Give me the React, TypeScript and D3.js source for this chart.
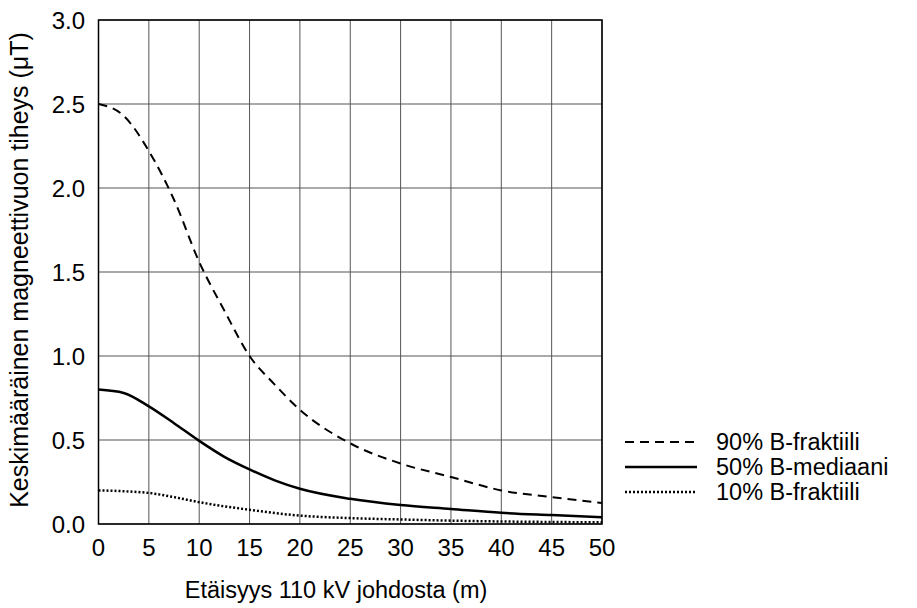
import React from "react";
import * as d3 from "d3";

const distances = [0, 2.5, 5, 7.5, 10, 12.5, 15, 17.5, 20, 25, 30, 35, 40, 45, 50];
const p90 = [2.5, 2.43, 2.22, 1.93, 1.56, 1.27, 1.0, 0.83, 0.68, 0.48, 0.36, 0.28, 0.2, 0.16, 0.125];
const p50 = [0.8, 0.78, 0.7, 0.6, 0.495, 0.4, 0.325, 0.26, 0.21, 0.15, 0.113, 0.09, 0.067, 0.053, 0.04];
const p10 = [0.2, 0.195, 0.185, 0.16, 0.13, 0.105, 0.085, 0.065, 0.05, 0.035, 0.027, 0.02, 0.015, 0.012, 0.01];
const xTicks = [0, 5, 10, 15, 20, 25, 30, 35, 40, 45, 50];
const yTicks = [0, 0.5, 1.0, 1.5, 2.0, 2.5, 3.0];
const seriesNames = ["90% B-fraktiili", "50% B-mediaani", "10% B-fraktiili"];

export default function App() {
  const W = 917, H = 608;
  const left = 98.5, right = 602, top = 20, bottom = 524;
  const x = d3.scaleLinear().domain([0, 50]).range([left, right]);
  const y = d3.scaleLinear().domain([0, 3]).range([bottom, top]);
  const line = (vals: number[]) =>
    d3.line<number>().x((_, i) => x(distances[i])).y((v) => y(v)).curve(d3.curveMonotoneX)(vals) || "";
  const series = [
    { vals: p90, dash: "9,6", w: 2 },
    { vals: p50, dash: "", w: 2.5 },
    { vals: p10, dash: "2,2", w: 2.5 },
  ];
  const font = "Liberation Sans, Arial, sans-serif";
  return (
    <svg width={W} height={H} style={{ position: "absolute", left: 0, top: 0 }} fontFamily={font}>
      <rect width={W} height={H} fill="white" />
      {xTicks.map((t) => (
        <line key={"gx" + t} x1={x(t)} x2={x(t)} y1={top} y2={bottom} stroke="#555" strokeWidth={1} />
      ))}
      {yTicks.map((t) => (
        <line key={"gy" + t} x1={left} x2={right} y1={y(t)} y2={y(t)} stroke="#555" strokeWidth={1} />
      ))}
      <rect x={left} y={top} width={right - left} height={bottom - top} fill="none" stroke="#000" strokeWidth={1.5} />
      {series.map((s, i) => (
        <path key={i} d={line(s.vals)} fill="none" stroke="#000" strokeWidth={s.w} strokeDasharray={s.dash || undefined} />
      ))}
      {xTicks.map((t) => (
        <text key={"tx" + t} x={x(t)} y={556} fontSize={24} textAnchor="middle">{t}</text>
      ))}
      {yTicks.map((t) => (
        <text key={"ty" + t} x={85} y={y(t) + 9} fontSize={24} textAnchor="end">{t.toFixed(1)}</text>
      ))}
      <text x={336} y={598} fontSize={23.5} textAnchor="middle">Etäisyys 110 kV johdosta (m)</text>
      <text transform={`translate(28,270) rotate(-90)`} fontSize={25} textAnchor="middle">
        Keskimääräinen magneettivuon tiheys (μT)
      </text>
      {seriesNames.map((n, i) => (
        <g key={n}>
          <line x1={625} x2={697} y1={442 + i * 25} y2={442 + i * 25} stroke="#000"
            strokeWidth={series[i].w} strokeDasharray={series[i].dash || undefined} />
          <text x={716} y={450 + i * 25} fontSize={23.5}>{n}</text>
        </g>
      ))}
    </svg>
  );
}
